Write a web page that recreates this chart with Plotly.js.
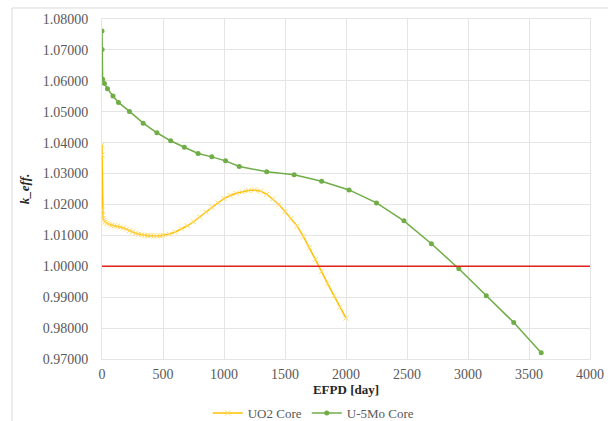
<!DOCTYPE html>
<html>
<head>
<meta charset="utf-8">
<script src="https://cdn.plot.ly/plotly-3.0.1.min.js"></script>
<style>html,body{margin:0;padding:0;background:#fff;}#chart{width:608px;height:421px;}</style>
</head>
<body>
<div id="chart"></div>
<script>
var uo2Days = [0, 1, 2, 4, 8, 15, 25, 40, 60, 80, 100, 125, 150, 175, 200, 225, 250, 275, 300, 325, 350, 375, 400, 425, 450, 475, 500, 550, 600, 650, 700, 750, 800, 850, 900, 950, 1000, 1050, 1100, 1150, 1200, 1250, 1300, 1350, 1400, 1450, 1500, 1550, 1600, 1650, 1700, 1750, 1800, 1850, 1900, 1950, 2000];
var uo2Keff = [1.0392, 1.0360, 1.0182, 1.0165, 1.0155, 1.0148, 1.0143, 1.0139, 1.0136, 1.0133, 1.0131, 1.0129, 1.0127, 1.0124, 1.0120, 1.0115, 1.0111, 1.0107, 1.0104, 1.0102, 1.0100, 1.0099, 1.0099, 1.0098, 1.0098, 1.0099, 1.0100, 1.0104, 1.0111, 1.0121, 1.0131, 1.0144, 1.0160, 1.0176, 1.0191, 1.0205, 1.0219, 1.0229, 1.0236, 1.0241, 1.0245, 1.0247, 1.0243, 1.0233, 1.0218, 1.0200, 1.0177, 1.0155, 1.0130, 1.0097, 1.0060, 1.0022, 0.9983, 0.9943, 0.9905, 0.9868, 0.9832];
var umoDays = [0, 1, 5, 20, 45, 90, 135, 225, 337.5, 450, 562.5, 675, 787.5, 900, 1012.5, 1125, 1350, 1575, 1800, 2025, 2250, 2475, 2700, 2925, 3150, 3375, 3600];
var umoKeff = [1.0761, 1.0701, 1.0605, 1.0591, 1.0574, 1.0551, 1.0530, 1.0501, 1.0463, 1.0432, 1.0406, 1.0385, 1.0365, 1.0354, 1.0341, 1.0323, 1.0306, 1.0296, 1.0275, 1.0247, 1.0205, 1.0147, 1.0073, 0.9992, 0.9905, 0.9818, 0.9720];
var criticalK = 1.0;
var seriesNames = ['UO2 Core', 'U-5Mo Core'];
var xTitle = 'EFPD [day]';
var yTitle = 'k_eff.';

var traces = [
  {x: uo2Days, y: uo2Keff, name: seriesNames[0], type: 'scatter', mode: 'lines+markers',
   line: {color: '#FFC000', width: 1.5},
   marker: {symbol: 'x-thin', size: 5, color: '#FFD966', line: {color: '#FFD966', width: 1}}},
  {x: umoDays, y: umoKeff, name: seriesNames[1], type: 'scatter', mode: 'lines+markers',
   line: {color: '#70AD47', width: 1.5},
   marker: {symbol: 'circle', size: 5, color: '#70AD47'}}
];

var font = 'Times New Roman, Liberation Serif, DejaVu Serif, serif';
var layout = {
  width: 608, height: 421,
  margin: {l: 102, r: 18, t: 19, b: 62, pad: 0, autoexpand: false},
  paper_bgcolor: '#ffffff', plot_bgcolor: '#ffffff',
  font: {family: font, size: 14, color: '#595959'},
  showlegend: true,
  legend: {orientation: 'h', xref: 'container', yref: 'container', x: 0.516, xanchor: 'center', y: 0.019, yanchor: 'middle',
           font: {family: font, size: 13, color: '#595959'}, itemwidth: 30, tracegroupgap: 0},
  xaxis: {range: [0, 4000], dtick: 500, tick0: 0, showgrid: true, gridcolor: '#E5E5E5', gridwidth: 1,
          zeroline: false, showline: true, linecolor: '#E5E5E5', mirror: true, ticks: '', automargin: false,
          ticklabelstandoff: 2,
          tickfont: {family: font, size: 14, color: '#595959'},
          title: {text: '<b>' + xTitle + '</b>', font: {family: font, size: 13, color: '#262626'}, standoff: 2}},
  yaxis: {range: [0.97, 1.08], dtick: 0.01, tick0: 0.97, tickformat: '.5f', showgrid: true, gridcolor: '#E5E5E5', gridwidth: 1,
          zeroline: false, showline: true, linecolor: '#E5E5E5', mirror: true, ticks: '', automargin: false,
          ticklabelstandoff: 10,
          tickfont: {family: font, size: 14, color: '#595959'},
          title: {text: '<b><i>' + yTitle + '</i></b>', font: {family: font, size: 13, color: '#262626'}, standoff: 10}},
  shapes: [
    {type: 'line', xref: 'paper', yref: 'y', x0: 0, x1: 1, y0: criticalK, y1: criticalK,
     line: {color: '#E0201B', width: 1.5}},
    {type: 'line', xref: 'paper', yref: 'paper', x0: -0.1844, x1: 1.2, y0: 1.0324, y1: 1.0324,
     line: {color: '#D9D9D9', width: 1}},
    {type: 'line', xref: 'paper', yref: 'paper', x0: -0.1844, x1: -0.1844, y0: 1.0324, y1: -0.3,
     line: {color: '#D9D9D9', width: 1}}
  ]
};

Plotly.newPlot('chart', traces, layout, {displayModeBar: false, responsive: false});
</script>
</body>
</html>
